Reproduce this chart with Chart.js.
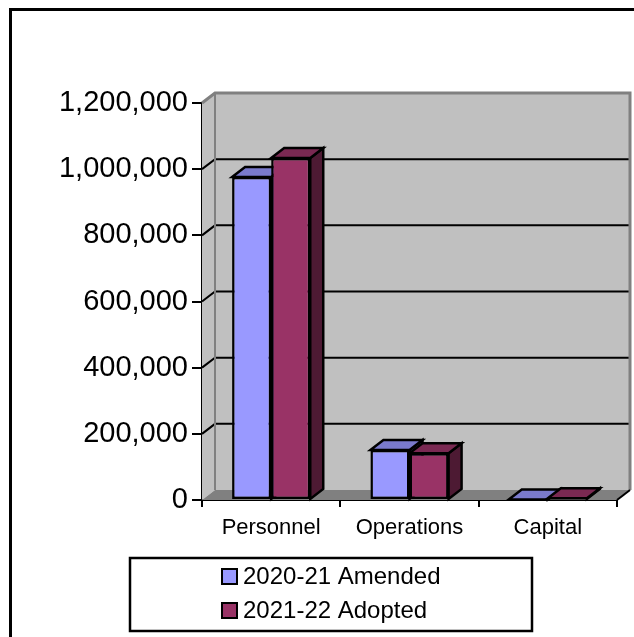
<!DOCTYPE html>
<html>
<head>
<meta charset="utf-8">
<script src="https://cdn.jsdelivr.net/npm/chart.js@4/dist/chart.umd.min.js"></script>
<style>
  html, body { margin: 0; padding: 0; background: #fff; }
  canvas { display: block; }
</style>
</head>
<body>
<canvas id="budgetChart" width="634" height="637"></canvas>
<script>
const categories = ['Personnel', 'Operations', 'Capital'];
const seriesLabels = ['2020-21 Amended', '2021-22 Adopted'];
const amended = [976000, 151000, 1500];
const adopted = [1034000, 141000, 5000];
const yMax = 1200000;
const yStep = 200000;

const FONT = 'Liberation Sans, Arial, sans-serif';
// depth of the 3D box (walls and columns)
const DX = 13, DY = -10;

const shades = [
    { front: '#9999FF', top: '#7A7ACC', side: '#5C5C99' },
    { front: '#993366', top: '#7A2952', side: '#4D1A33' }
];

function poly(ctx, pts, fill, stroke, lw) {
    ctx.beginPath();
    ctx.moveTo(pts[0][0], pts[0][1]);
    for (let i = 1; i < pts.length; i++) ctx.lineTo(pts[i][0], pts[i][1]);
    ctx.closePath();
    if (fill) { ctx.fillStyle = fill; ctx.fill(); }
    if (stroke) { ctx.strokeStyle = stroke; ctx.lineWidth = lw || 2; ctx.stroke(); }
}

function line(ctx, pts, color, lw) {
    ctx.beginPath();
    ctx.moveTo(pts[0][0], pts[0][1]);
    for (let i = 1; i < pts.length; i++) ctx.lineTo(pts[i][0], pts[i][1]);
    ctx.strokeStyle = color;
    ctx.lineWidth = lw;
    ctx.stroke();
}

const box3d = {
    id: 'box3d',
    beforeDatasetsDraw(chart) {
        const { ctx, chartArea: a, scales: { y } } = chart;
        const L = a.left, R = a.right, T = a.top, B = a.bottom;
        ctx.save();
        // walls and floor
        poly(ctx, [[L, T], [L + DX, T + DY], [L + DX, B + DY], [L, B]], '#C0C0C0');
        poly(ctx, [[L + DX, T + DY], [R + DX, T + DY], [R + DX, B + DY], [L + DX, B + DY]], '#C0C0C0');
        poly(ctx, [[L, B], [R, B], [R + DX, B + DY], [L + DX, B + DY]], '#808080');

        // gridlines on side and back wall
        y.ticks.forEach(t => {
            if (t.value === 0 || t.value === y.max) return;
            const py = y.getPixelForValue(t.value);
            line(ctx, [[L, py], [L + DX, py + DY], [R + DX, py + DY]], '#000', 2);
        });

        // wall edges
        line(ctx, [[L, T], [L + DX, T + DY], [R + DX, T + DY], [R + DX, B + DY]], '#808080', 3);
        line(ctx, [[L + DX, T + DY], [L + DX, B + DY]], '#808080', 2);
        line(ctx, [[R, B], [R + DX, B + DY]], '#000', 2);

        // column sides and tops, front faces come from the datasets
        const metas = chart.data.datasets.map((d, i) => chart.getDatasetMeta(i));
        categories.forEach((c, ci) => {
            metas.forEach((meta, di) => {
                const bar = meta.data[ci];
                const p = bar.getProps(['x', 'y', 'width', 'base'], true);
                const left = p.x - p.width / 2, right = p.x + p.width / 2;
                const col = shades[di];
                poly(ctx, [[right, p.y], [right + DX, p.y + DY], [right + DX, p.base + DY], [right, p.base]], col.side, '#000', 2.5);
                poly(ctx, [[left, p.y], [right, p.y], [right + DX, p.y + DY], [left + DX, p.y + DY]], col.top, '#000', 2.5);
            });
        });
        ctx.restore();
    },
    afterDraw(chart) {
        const { ctx } = chart;
        ctx.save();
        // outer frame
        ctx.strokeStyle = '#000';
        ctx.lineWidth = 3;
        ctx.strokeRect(10.5, 9.5, 700, 700);

        // legend box
        ctx.lineWidth = 2.5;
        ctx.strokeRect(130, 558, 402, 73);
        ctx.font = '24px ' + FONT;
        ctx.textBaseline = 'middle';
        ctx.textAlign = 'left';
        seriesLabels.forEach((label, i) => {
            const cy = 577 + i * 34;
            ctx.fillStyle = shades[i].front;
            ctx.fillRect(222, cy - 8, 15, 15);
            ctx.strokeStyle = '#000';
            ctx.lineWidth = 2;
            ctx.strokeRect(222, cy - 8, 15, 15);
            ctx.fillStyle = '#000';
            ctx.fillText(label, 243, cy);
        });
        ctx.restore();
    }
};

new Chart(document.getElementById('budgetChart'), {
    type: 'bar',
    data: {
        labels: categories,
        datasets: [
            { label: seriesLabels[0], data: amended, backgroundColor: shades[0].front },
            { label: seriesLabels[1], data: adopted, backgroundColor: shades[1].front }
        ]
    },
    options: {
        responsive: false,
        animation: false,
        events: [],
        layout: { padding: { top: 103, right: 17, bottom: 97, left: 0 } },
        datasets: {
            bar: {
                borderColor: '#000',
                borderWidth: 2.5,
                borderSkipped: false,
                categoryPercentage: 0.565,
                barPercentage: 1.0
            }
        },
        plugins: {
            legend: { display: false },
            tooltip: { enabled: false }
        },
        scales: {
            x: {
                grid: { drawOnChartArea: false, tickLength: 7, color: '#000', lineWidth: 2, offset: true },
                border: { display: true, color: '#000', width: 2 },
                ticks: { color: '#000', font: { family: FONT, size: 22 }, padding: 8, maxRotation: 0 },
                afterFit(scale) { scale.height = 40; }
            },
            y: {
                min: 0,
                max: yMax,
                grid: { drawOnChartArea: false, tickLength: 10, color: '#000', lineWidth: 2 },
                border: { display: true, color: '#000', width: 2 },
                ticks: {
                    stepSize: yStep,
                    color: '#000',
                    font: { family: FONT, size: 29 },
                    padding: 4,
                    callback: v => v.toLocaleString('en-US')
                },
                afterFit(scale) { scale.width = 202; }
            }
        }
    },
    plugins: [box3d]
});
</script>
</body>
</html>
